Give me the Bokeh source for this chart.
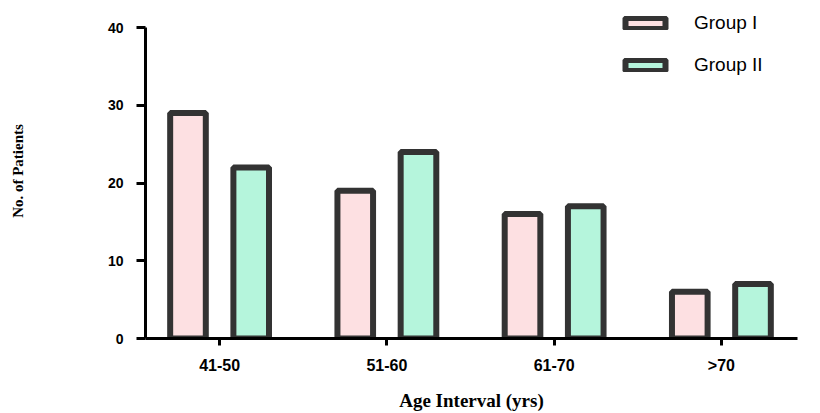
import numpy as np
from bokeh.plotting import figure
from bokeh.models import Range1d, FixedTicker, Legend, LegendItem, ColumnDataSource
from bokeh.embed import file_html
from bokeh.resources import INLINE

categories = ["41-50", "51-60", "61-70", ">70"]
group1 = [29, 19, 16, 6]
group2 = [22, 24, 17, 7]
y_ticks = [0, 10, 20, 30, 40]
series_names = ["Group I", "Group II"]
colors = ["#FDE0E2", "#B5F5DC"]

idx = np.arange(len(categories))
offset = 0.189
bar_w = 0.213
y_max = y_ticks[-1]
top_pad = 24 / 7.775  # extra headroom (in data units) for the legend above the axis top

p = figure(width=820, height=413, output_backend="svg", toolbar_location=None,
           x_range=Range1d(-0.443, 3.455), y_range=Range1d(0, y_max + top_pad),
           min_border_left=145, min_border_right=23, min_border_top=3,
           min_border_bottom=75)
p.outline_line_color = None
p.xgrid.grid_line_color = None
p.ygrid.grid_line_color = None

src = ColumnDataSource(dict(x1=idx - offset, x2=idx + offset, g1=group1, g2=group2))
r1 = p.vbar(x="x1", top="g1", width=bar_w, bottom=0, source=src,
            fill_color=colors[0], line_color="#333333", line_width=6)
r2 = p.vbar(x="x2", top="g2", width=bar_w, bottom=0, source=src,
            fill_color=colors[1], line_color="#333333", line_width=6)

for ax in (p.xaxis[0], p.yaxis[0]):
    ax.axis_line_color = "black"
    ax.axis_line_width = 3
    ax.major_tick_line_color = "black"
    ax.major_tick_line_width = 3
    ax.major_tick_in = 0
    ax.minor_tick_line_color = None
    ax.major_label_text_font = "Liberation Sans"
    ax.major_label_text_font_style = "bold"
    ax.major_label_text_color = "black"
    ax.axis_label_text_font = "Liberation Serif"
    ax.axis_label_text_font_style = "bold"
    ax.axis_label_text_color = "black"

p.xaxis.ticker = FixedTicker(ticks=[int(i) for i in idx])
p.xaxis.major_label_overrides = {int(i): c for i, c in zip(idx, categories)}
p.xaxis.major_tick_out = 7
p.xaxis.major_label_standoff = 11
p.xaxis.major_label_text_font_size = "16px"
p.xaxis.axis_label = "Age Interval (yrs)"
p.xaxis.axis_label_text_font_size = "19px"
p.xaxis.axis_label_standoff = 13

p.yaxis.ticker = FixedTicker(ticks=y_ticks)
p.yaxis.bounds = (0, y_max)
p.yaxis.major_tick_out = 9
p.yaxis.major_label_standoff = 13
p.yaxis.major_label_text_font_size = "14px"
p.yaxis.axis_label = "No. of Patients"
p.yaxis.axis_label_text_font_size = "15px"
p.yaxis.axis_label_standoff = 79

legend = Legend(items=[LegendItem(label=series_names[0], renderers=[r1]),
                       LegendItem(label=series_names[1], renderers=[r2])],
                location=(475, 262), orientation="vertical",
                glyph_width=50, glyph_height=14, label_height=14,
                spacing=20, padding=0, margin=0, label_standoff=24,
                border_line_alpha=0, background_fill_alpha=0,
                label_text_font="Liberation Sans", label_text_font_size="19px",
                label_text_color="black")
p.add_layout(legend)

open("out.html", "w").write(file_html(p, INLINE))
